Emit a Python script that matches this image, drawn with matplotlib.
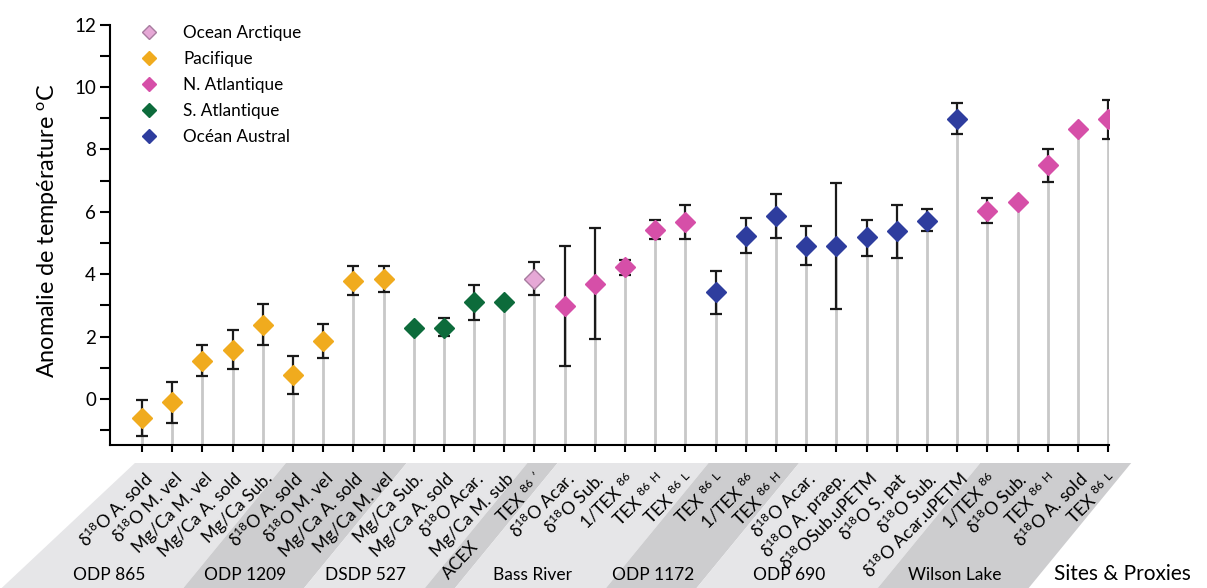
import numpy as np
import matplotlib.pyplot as plt
from matplotlib.lines import Line2D
from matplotlib.patches import Polygon

plt.rcParams['font.family'] = ['Lato', 'DejaVu Sans']
plt.rcParams['mathtext.fontset'] = 'custom'
plt.rcParams['mathtext.rm'] = 'Lato'
plt.rcParams['mathtext.default'] = 'regular'

# proxy labels
D18 = r'δ$^{18}$O'
TEXH = r'TEX $^{86}$ $^{H}$'
TEXL = r'TEX $^{86}$ $^{L}$'
TEXP = r"TEX $^{86}$ $^{\prime}$"
ITEX = r'1/TEX $^{86}$'

labels = [D18 + ' A. sold', D18 + ' M. vel', 'Mg/Ca M. vel', 'Mg/Ca A. sold', 'Mg/Ca Sub.',
          D18 + ' A. sold', D18 + ' M. vel', 'Mg/Ca A. sold', 'Mg/Ca M. vel',
          'Mg/Ca Sub.', 'Mg/Ca A. sold', D18 + ' Acar.', 'Mg/Ca M. sub',
          TEXP,
          D18 + ' Acar.', D18 + ' Sub.', ITEX, TEXH, TEXL,
          TEXL, ITEX, TEXH,
          D18 + ' Acar.', D18 + ' A. praep.', D18 + 'Sub.uPETM', D18 + ' S. pat', D18 + ' Sub.',
          D18 + ' Acar.uPETM',
          ITEX, D18 + ' Sub.', TEXH, D18 + ' A. sold', TEXL]

values = [-0.61, -0.10, 1.21, 1.58, 2.38, 0.78, 1.87, 3.77, 3.85,
          2.29, 2.29, 3.10, 3.10,
          3.85,
          2.97, 3.70, 4.22, 5.43, 5.66,
          3.42, 5.21, 5.85,
          4.91, 4.91, 5.18, 5.37, 5.72, 8.98,
          6.04, 6.33, 7.49, 8.65, 8.97]

err_top = [-0.04, 0.56, 1.72, 2.20, 3.04, 1.37, 2.40, 4.27, 4.25,
           np.nan, 2.60, 3.66, np.nan,
           4.39,
           4.91, 5.48, 4.46, 5.74, 6.21,
           4.11, 5.79, 6.56,
           5.53, 6.93, 5.75, 6.23, 6.09, 9.49,
           6.44, np.nan, 8.01, np.nan, 9.59]

err_bot = [-1.18, -0.75, 0.75, 0.96, 1.74, 0.17, 1.31, 3.32, 3.44,
           np.nan, 2.02, 2.54, np.nan,
           3.32,
           1.07, 1.92, 3.96, 5.13, 5.14,
           2.72, 4.67, 5.15,
           4.31, 2.90, 4.60, 4.53, 5.37, 8.49,
           5.64, np.nan, 6.97, np.nan, 8.34]

regions = ['Pacifique'] * 9 + ['S. Atlantique'] * 4 + ['Ocean Arctique'] + \
          ['N. Atlantique'] * 5 + ['Océan Austral'] * 9 + ['N. Atlantique'] * 5

groups = ['ODP 865', 'ODP 1209', 'DSDP 527', 'ACEX', 'Bass River', 'ODP 1172', 'ODP 690', 'Wilson Lake']
group_sizes = [5, 4, 4, 1, 5, 3, 6, 5]

legend_order = ['Ocean Arctique', 'Pacifique', 'N. Atlantique', 'S. Atlantique', 'Océan Austral']
colors = {'Ocean Arctique': '#e6a8d6', 'Pacifique': '#f0ab1e', 'N. Atlantique': '#d64fa8',
          'S. Atlantique': '#0d6b3b', 'Océan Austral': '#2e3d9e'}
edges = {'Ocean Arctique': '#a87c9f'}

W, H = 1207, 588
fig = plt.figure(figsize=(W / 100, H / 100), dpi=100)
ax = fig.add_axes([110 / W, (H - 445) / H, 999 / W, 420.5 / H], zorder=2)
ax.patch.set_alpha(0)

x = np.arange(len(values))
vals = np.array(values)
ybot = -1.47
ax.set_xlim(-1.06, 32.03)
ax.set_ylim(ybot, 12)

# stems
ax.vlines(x, ybot, vals, color='#c8c8c8', lw=2, zorder=1)
# error bars
lo = vals - np.array(err_bot)
hi = np.array(err_top) - vals
ax.errorbar(x, vals, yerr=[lo, hi], fmt='none', ecolor='#1a1a1a', elinewidth=1.6,
            capsize=4, capthick=1.6, zorder=2)
# diamonds
for r in legend_order:
    m = np.array([g == r for g in regions])
    ax.plot(x[m], vals[m], 'D', ms=10, color=colors[r], mec=edges.get(r, colors[r]),
            mew=1, ls='none', zorder=3)

for s in ['top', 'right']:
    ax.spines[s].set_visible(False)
for s in ['left', 'bottom']:
    ax.spines[s].set_linewidth(1.5)
ax.set_yticks(range(0, 13, 2))
ax.set_yticks(range(-1, 12, 2), minor=True)
ax.tick_params(axis='y', which='both', direction='out', length=7, width=1.5, labelsize=13.5, pad=3)
ax.set_xticks(x)
ax.set_xticklabels([])
ax.tick_params(axis='x', direction='out', length=5, width=1.5)
ax.set_ylabel('Anomalie de température $^{o}$C', fontsize=16.8)
ax.yaxis.set_label_coords(-0.05, 0.51)

handles = [Line2D([], [], marker='D', ls='none', ms=7.5, color=colors[r],
                  mec=edges.get(r, colors[r])) for r in legend_order]
ax.legend(handles, legend_order, loc='upper left', bbox_to_anchor=(0.015, 1.014),
          frameon=False, fontsize=12.3, handletextpad=1.0, labelspacing=0.58,
          borderaxespad=0)

# overlay in pixel coordinates for the slanted site bands
ov = fig.add_axes([0, 0, 1, 1], zorder=1)
ov.set_xlim(0, W)
ov.set_ylim(H, 0)
ov.axis('off')


def px(i):
    return ax.transData.transform((i, 0))[0]


band_top, band_bot, k = 463, 588, 0.82
start = 0
for j, (name, n) in enumerate(zip(groups, group_sizes)):
    left = px(start - 0.5) + 8
    right = px(start + n - 0.5) + 8
    dx = k * (band_bot - band_top)
    fc = '#e6e6e8' if j % 2 == 0 else '#cdcdcf'
    if j == 0:
        ov.add_patch(Polygon([(left, band_top), (right, band_top), (right - dx, band_bot),
                              (left - 1.3 * dx, band_bot)], closed=True, fc=fc, ec='none'))
    else:
        ov.add_patch(Polygon([(left, band_top), (right, band_top), (right - dx, band_bot),
                              (left - dx, band_bot)], closed=True, fc=fc, ec='none'))
    cx = px(start + (n - 1) / 2) + 8
    if n == 1:
        ov.text(cx - k * 100, 560, name, fontsize=12.5, rotation=47, ha='center', va='center')
    else:
        ov.text(cx - k * 111 - 10, 575, name, fontsize=12.5, ha='center', va='center')
    start += n

for i, lab in enumerate(labels):
    ov.text(px(i) + 7, 476, lab, fontsize=12.6, rotation=45, rotation_mode='anchor',
            ha='right', va='center')

ov.text(1122, 574, 'Sites & Proxies', fontsize=15, ha='center', va='center')

fig.savefig('out.png', dpi=100)
